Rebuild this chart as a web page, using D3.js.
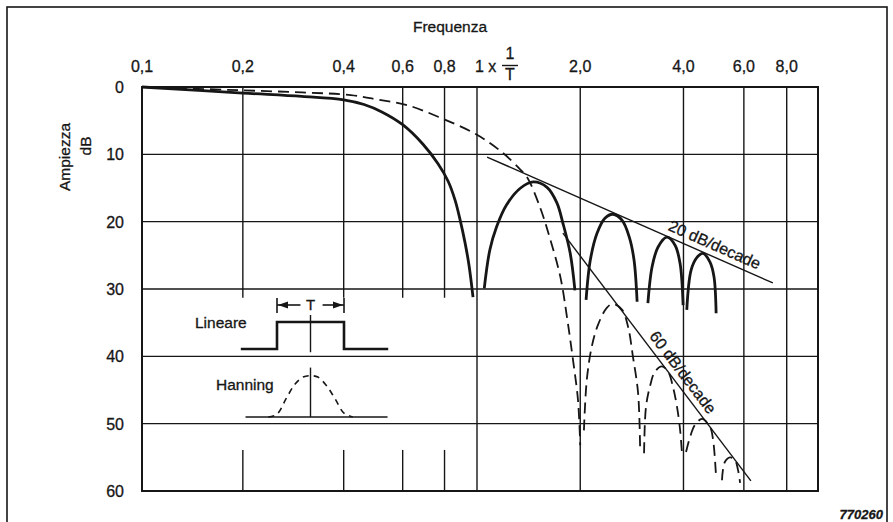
<!DOCTYPE html>
<html>
<head>
<meta charset="utf-8">
<script src="https://cdn.jsdelivr.net/npm/d3@7"></script>
<style>
  body { margin: 0; background: #fff; }
  svg { display: block; font-family: "Liberation Sans", Arial, sans-serif; }
  text { stroke: #161616; stroke-width: 0.3px; }
</style>
</head>
<body>
<script>
// axis ticks
const freqTicks = [0.1, 0.2, 0.4, 0.6, 0.8, 1, 2, 4, 6, 8];
const freqLabels = ["0,1", "0,2", "0,4", "0,6", "0,8", "1 x", "2,0", "4,0", "6,0", "8,0"];
const dbTicks = [0, 10, 20, 30, 40, 50, 60];
const shortGrid = [0.2, 0.4, 0.6, 0.8]; // broken where the inset sits

// Lineare (rectangular window), [freq x 1/T, dB]
const linMain = [[0.1, 0], [0.2, 0.9], [0.3, 1.4], [0.4, 1.9], [0.46, 2.6], [0.52, 3.7], [0.6, 5.6],
  [0.69, 8.5], [0.765, 11.4], [0.82, 14.0], [0.86, 16.8], [0.89, 19.7], [0.92, 23.0], [0.946, 26.4],
  [0.973, 31.2]];
const linLobes = [
  [[1.05, 29.9], [1.09, 24.2], [1.14, 20.8], [1.22, 17.5], [1.34, 15.0], [1.46, 14.1], [1.6, 14.9],
    [1.71, 17.2], [1.78, 20.2], [1.87, 24.7], [1.93, 30.2]],
  [[2.08, 31.6], [2.14, 25.7], [2.24, 21.7], [2.36, 19.5], [2.49, 18.9], [2.65, 19.8], [2.78, 22.3],
    [2.87, 25.7], [2.93, 31.9]],
  [[3.15, 32.1], [3.24, 26.7], [3.37, 23.8], [3.58, 22.3], [3.78, 23.5], [3.91, 26.2], [3.99, 32.4]],
  [[4.09, 33.1], [4.21, 27.2], [4.38, 25.3], [4.56, 24.7], [4.78, 26.0], [4.91, 28.2], [4.98, 33.6]]
];

// Hanning window
const hanMain = [[0.1, 0], [0.2, 0.5], [0.3, 0.8], [0.42, 1.2], [0.51, 1.9], [0.62, 2.7], [0.78, 4.6],
  [1.0, 7.1], [1.19, 9.8], [1.34, 12.3], [1.4, 13.4], [1.53, 18.0], [1.63, 22.4], [1.75, 28.2],
  [1.83, 34.2], [1.9, 40.1], [1.97, 46.5], [2.0, 53.2]];
const hanLobes = [
  [[2.05, 51], [2.09, 43.5], [2.16, 38.6], [2.25, 35.4], [2.39, 32.8], [2.49, 32.2], [2.65, 33.1],
    [2.76, 35.7], [2.85, 40.1], [2.95, 45.5], [2.99, 54.0]],
  [[3.07, 54.4], [3.11, 47.5], [3.2, 44.3], [3.3, 42.3], [3.46, 41.5], [3.61, 42.3], [3.73, 44.6],
    [3.83, 47.5], [3.91, 50.9], [3.96, 54.4]],
  [[4.07, 54.2], [4.18, 52.0], [4.32, 50.2], [4.53, 49.3], [4.78, 50.5], [4.88, 52.4], [4.98, 58]],
  [[5.18, 58.4], [5.28, 55.7], [5.47, 55.0], [5.65, 55.4], [5.77, 56.9], [5.85, 58.8]]
];

// asymptotes
const slope20 = [[1.07, 10.4], [7.29, 29.1]];
const slope60 = [[1.78, 21.7], [6.29, 58.5]];

// inset window shapes, [position in T, level]
const rectShape = [[-1.04, 0], [-0.5, 0], [-0.5, 1], [0.5, 1], [0.5, 0], [1.16, 0]];
const hannBase = [[-0.97, 0], [1.15, 0]];
const hannShape = [[-0.63, 0], [-0.5, 0.1], [-0.36, 0.7], [-0.23, 1.22], [-0.11, 1.48], [0, 1.53],
  [0.11, 1.48], [0.24, 1.16], [0.37, 0.66], [0.5, 0.14], [0.63, 0]];

const W = 893, H = 522;
const ink = "#161616";

const svg = d3.select("body").append("svg")
  .attr("width", W)
  .attr("height", H);

// outer frame
svg.append("rect")
  .attr("x", 7).attr("y", 7)
  .attr("width", 880).attr("height", 540)
  .attr("fill", "none").attr("stroke", ink).attr("stroke-width", 1.6);

const xMax = 9.87;
const x = d3.scaleLog().domain([0.1, 1, xMax]).range([142, 477, 818]);
const y = d3.scaleLinear().domain([0, 60]).range([87, 491]);

const grid = svg.append("g").attr("stroke", ink).attr("stroke-width", 1.4);

// horizontal grid
grid.selectAll(".h")
  .data(dbTicks.slice(1, -1))
  .join("line")
  .attr("x1", x(0.1)).attr("x2", x(xMax))
  .attr("y1", d => y(d)).attr("y2", d => y(d));

// vertical grid, full height
grid.selectAll(".v")
  .data(freqTicks.filter(d => d >= 1))
  .join("line")
  .attr("x1", d => x(d)).attr("x2", d => x(d))
  .attr("y1", y(0)).attr("y2", y(60));

// vertical grid, broken around inset
grid.selectAll(".vt")
  .data(shortGrid)
  .join("line")
  .attr("x1", d => x(d)).attr("x2", d => x(d))
  .attr("y1", y(0)).attr("y2", y(31.3));
grid.selectAll(".vb")
  .data(shortGrid)
  .join("line")
  .attr("x1", d => x(d)).attr("x2", d => x(d))
  .attr("y1", y(53.9)).attr("y2", y(60));

// plot border
svg.append("rect")
  .attr("x", x(0.1)).attr("y", y(0))
  .attr("width", x(xMax) - x(0.1)).attr("height", y(60) - y(0))
  .attr("fill", "none").attr("stroke", ink).attr("stroke-width", 2);

// top axis labels
const lab = svg.append("g").attr("fill", ink).attr("font-size", 16);
lab.selectAll(".xl")
  .data(freqTicks)
  .join("text")
  .attr("x", d => d === 1 ? x(d) - 2 : x(d))
  .attr("y", 72)
  .attr("text-anchor", d => d === 1 ? "start" : "middle")
  .text((d, i) => freqLabels[i]);

// 1/T fraction
const fx = x(1) + 33;
lab.append("text").attr("x", fx).attr("y", 59).attr("text-anchor", "middle").text("1");
lab.append("text").attr("x", fx).attr("y", 80).attr("text-anchor", "middle").text("T");
svg.append("line")
  .attr("x1", fx - 8).attr("x2", fx + 8)
  .attr("y1", 65.5).attr("y2", 65.5)
  .attr("stroke", ink).attr("stroke-width", 1.4);

lab.append("text")
  .attr("x", 450).attr("y", 32)
  .attr("text-anchor", "middle")
  .attr("font-size", 15.5)
  .text("Frequenza");

// left axis labels
lab.selectAll(".yl")
  .data(dbTicks)
  .join("text")
  .attr("x", 124)
  .attr("y", d => y(d) + 6)
  .attr("text-anchor", "end")
  .text(d => d);

lab.append("text")
  .attr("transform", "translate(70,157) rotate(-90)")
  .attr("text-anchor", "middle")
  .attr("font-size", 15.5)
  .text("Ampiezza");
lab.append("text")
  .attr("transform", "translate(91,146) rotate(-90)")
  .attr("text-anchor", "middle")
  .attr("font-size", 15.5)
  .text("dB");

// curves
const line = d3.line()
  .x(d => x(d[0]))
  .y(d => y(d[1]))
  .curve(d3.curveCatmullRom.alpha(0.5));

const solid = svg.append("g")
  .attr("fill", "none").attr("stroke", ink)
  .attr("stroke-width", 2.8).attr("stroke-linecap", "butt");
solid.selectAll("path")
  .data([linMain, ...linLobes])
  .join("path")
  .attr("d", line);

const dashed = svg.append("g")
  .attr("fill", "none").attr("stroke", ink)
  .attr("stroke-width", 1.8).attr("stroke-dasharray", "11,6");
dashed.selectAll("path")
  .data([hanMain, ...hanLobes])
  .join("path")
  .attr("d", line);

// asymptotes with labels
const straight = d3.line().x(d => x(d[0])).y(d => y(d[1]));
[[slope20, "20 dB/decade", 0.78], [slope60, "60 dB/decade", 0.59]].forEach(([seg, txt, t]) => {
  svg.append("path")
    .attr("d", straight(seg))
    .attr("fill", "none").attr("stroke", ink).attr("stroke-width", 1.4);
  const x0 = x(seg[0][0]), y0 = y(seg[0][1]);
  const x1 = x(seg[1][0]), y1 = y(seg[1][1]);
  const ang = Math.atan2(y1 - y0, x1 - x0) * 180 / Math.PI;
  svg.append("text")
    .attr("transform", `translate(${x0 + (x1 - x0) * t},${y0 + (y1 - y0) * t}) rotate(${ang})`)
    .attr("dy", -6)
    .attr("text-anchor", "middle")
    .attr("font-size", 16)
    .attr("fill", ink)
    .text(txt);
});

// inset: window shapes
const ix = d3.scaleLinear().domain([-0.5, 0.5]).range([277, 344]);
const rectY = d3.scaleLinear().domain([0, 1]).range([349, 322]);
const hannY = d3.scaleLinear().domain([0, 1]).range([417, 390]);

const inset = svg.append("g").attr("fill", "none").attr("stroke", ink);
inset.append("path")
  .attr("d", d3.line().x(d => ix(d[0])).y(d => rectY(d[1]))(rectShape))
  .attr("stroke-width", 2.6);
inset.append("line")
  .attr("x1", ix(0)).attr("x2", ix(0))
  .attr("y1", rectY(1.26)).attr("y2", rectY(-0.12))
  .attr("stroke-width", 1.4);

// T dimension arrows
const ay = 305;
inset.append("line").attr("x1", ix(-0.5)).attr("x2", ix(-0.5)).attr("y1", ay - 7).attr("y2", ay + 8).attr("stroke-width", 1.6);
inset.append("line").attr("x1", ix(0.5)).attr("x2", ix(0.5)).attr("y1", ay - 7).attr("y2", ay + 8).attr("stroke-width", 1.6);
inset.append("line").attr("x1", ix(-0.5)).attr("x2", ix(-0.15)).attr("y1", ay).attr("y2", ay).attr("stroke-width", 1.6);
inset.append("line").attr("x1", ix(0.18)).attr("x2", ix(0.5)).attr("y1", ay).attr("y2", ay).attr("stroke-width", 1.6);
svg.append("path")
  .attr("d", `M${ix(-0.5) + 1},${ay} l10,-3.5 l0,7 z M${ix(0.5) - 1},${ay} l-10,-3.5 l0,7 z`)
  .attr("fill", ink);
svg.append("text")
  .attr("x", ix(0)).attr("y", ay + 5)
  .attr("text-anchor", "middle")
  .attr("font-size", 15).attr("fill", ink)
  .text("T");

// Hanning shape
inset.append("path")
  .attr("d", d3.line().x(d => ix(d[0])).y(d => hannY(d[1]))(hannBase))
  .attr("stroke-width", 1.5);
inset.append("line")
  .attr("x1", ix(0)).attr("x2", ix(0))
  .attr("y1", hannY(1.83)).attr("y2", hannY(0))
  .attr("stroke-width", 1.4);
inset.append("path")
  .attr("d", d3.line().x(d => ix(d[0])).y(d => hannY(d[1])).curve(d3.curveCatmullRom)(hannShape))
  .attr("stroke-width", 1.6)
  .attr("stroke-dasharray", "6,5");

svg.append("text")
  .attr("x", 195).attr("y", 328)
  .attr("font-size", 15.5).attr("fill", ink)
  .text("Lineare");
svg.append("text")
  .attr("x", 216).attr("y", 390)
  .attr("font-size", 15.5).attr("fill", ink)
  .text("Hanning");

// figure number
svg.append("text")
  .attr("x", 883).attr("y", 519)
  .attr("text-anchor", "end")
  .attr("font-size", 13)
  .attr("font-style", "italic")
  .attr("font-weight", "bold")
  .attr("fill", ink)
  .text("770260");
</script>
</body>
</html>
